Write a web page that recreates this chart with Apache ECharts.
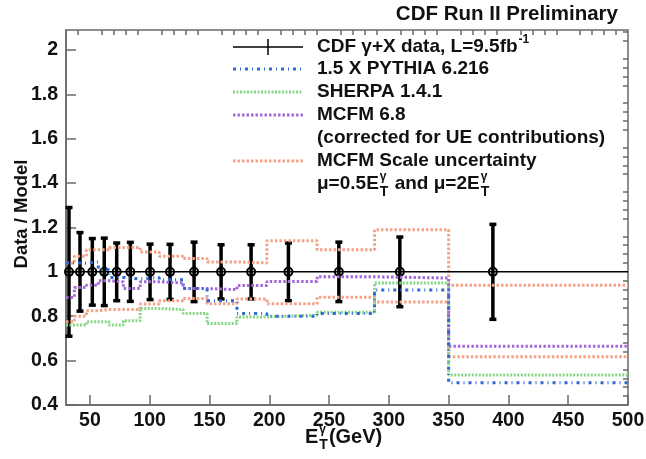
<!DOCTYPE html>
<html>
<head>
<meta charset="utf-8">
<script src="https://cdn.jsdelivr.net/npm/echarts@6/dist/echarts.min.js"></script>
<style>
  html, body { margin: 0; padding: 0; background: #fff; }
  #chart { width: 646px; height: 459px; }
</style>
</head>
<body>
<div id="chart"></div>
<script>
// bin edges (GeV) shared by all model curves
var binEdges = [30, 37, 47, 57, 66, 78, 92, 108, 128, 148, 173, 198, 240, 288, 350, 500];
// data points: position, ratio, total uncertainty
var dataX = [32.5, 41.7, 52, 62, 72.4, 83.8, 100.3, 117, 137.1, 159.7, 184.8, 216, 258.2, 309.2, 387];
var dataY = [1, 1, 1, 1, 1, 1, 1, 1, 1, 1, 1, 1, 1, 1, 1];
var dataErr = [0.29, 0.177, 0.15, 0.152, 0.13, 0.133, 0.125, 0.124, 0.134, 0.122, 0.122, 0.13, 0.134, 0.157, 0.214];
// model ratios, one value per bin
var pythia = [1.04, 1.04, 1.045, 1.01, 0.975, 0.968, 0.975, 0.965, 0.925, 0.87, 0.812, 0.80, 0.812, 0.918, 0.50];
var sherpa = [0.76, 0.76, 0.775, 0.775, 0.76, 0.78, 0.835, 0.83, 0.812, 0.767, 0.797, 0.805, 0.818, 0.95, 0.535];
var mcfm = [0.885, 0.93, 0.94, 0.96, 0.955, 0.925, 0.955, 0.95, 0.925, 0.92, 0.938, 0.957, 0.978, 0.972, 0.665];
var scaleHi = [1.04, 1.07, 1.10, 1.10, 1.11, 1.11, 1.09, 1.07, 1.06, 1.045, 1.04, 1.14, 1.10, 1.19, 0.94];
var scaleLo = [0.775, 0.80, 0.825, 0.83, 0.83, 0.83, 0.855, 0.87, 0.88, 0.856, 0.878, 0.856, 0.886, 0.864, 0.617];
// axis ticks
var xMajor = [50, 100, 150, 200, 250, 300, 350, 400, 450, 500];
var xMinor = [40, 60, 70, 80, 90, 110, 120, 130, 140, 160, 170, 180, 190, 210, 220, 230, 240, 260, 270, 280, 290,
  310, 320, 330, 340, 360, 370, 380, 390, 410, 420, 430, 440, 460, 470, 480, 490];
var yMajor = [0.4, 0.6, 0.8, 1, 1.2, 1.4, 1.6, 1.8, 2];
var yMinor = [0.44, 0.48, 0.52, 0.56, 0.64, 0.68, 0.72, 0.76, 0.84, 0.88, 0.92, 0.96, 1.04, 1.08, 1.12, 1.16,
  1.24, 1.28, 1.32, 1.36, 1.44, 1.48, 1.52, 1.56, 1.64, 1.68, 1.72, 1.76, 1.84, 1.88, 1.92, 1.96, 2.04, 2.08];

var FONT = '"Liberation Sans", Arial, sans-serif';
var ink = '#111';
var frame = '#6a6a6a';
var colors = { pythia: '#2e68d6', sherpa: '#86d684', mcfm: '#a46ad8', scale: '#f6a287' };
var dashes = { pythia: [3, 4, 1, 4], sherpa: [2, 1.5], mcfm: [2.5, 2], scale: [2.5, 2] };

function hist(vals) {
  var pts = vals.map(function (v, i) { return [binEdges[i], v]; });
  pts.push([binEdges[binEdges.length - 1], vals[vals.length - 1]]);
  return pts;
}
function stepSeries(name, vals, key) {
  return { name: name, type: 'line', step: 'end', data: hist(vals), showSymbol: false, silent: true,
    lineStyle: { color: colors[key], width: 3, type: dashes[key] } };
}

// text measurement for manual sub/superscripts
var mctx = document.createElement('canvas').getContext('2d');
function tw(t, size) { mctx.font = 'bold ' + size + 'px ' + FONT; return mctx.measureText(t).width; }
function txt(x, y, t, size, align) {
  return { type: 'text', x: x, y: y, silent: true,
    style: { text: t, font: 'bold ' + size + 'px ' + FONT, fill: ink,
      align: align || 'left', textAlign: align || 'left', verticalAlign: 'middle', textVerticalAlign: 'middle' } };
}
function runs(x, y, size, parts) {
  var out = [], cx = x, small = Math.round(size * 0.62);
  parts.forEach(function (p) {
    if (typeof p === 'string') { out.push(txt(cx, y, p, size)); cx += tw(p, size); return; }
    var w = 0;
    if (p.sup) { out.push(txt(cx + 1, y - size * 0.38, p.sup, small)); w = Math.max(w, tw(p.sup, small)); }
    if (p.sub) { out.push(txt(cx + 1, y + size * 0.42, p.sub, small + 2)); w = Math.max(w, tw(p.sub, small + 2)); }
    cx += w + 2;
  });
  return out;
}

var lx0 = 233, lx1 = 303, tx = 317, ls = 19;
var rows = [47, 69, 92, 115, 138, 161, 184];
function sample(y, key) {
  return { type: 'line', silent: true, shape: { x1: lx0, y1: y, x2: lx1, y2: y },
    style: { stroke: colors[key], lineWidth: 3, lineDash: dashes[key] } };
}
var yTitle = txt(22, 214, 'Data / Model', 18.5, 'center');
yTitle.rotation = Math.PI / 2;
var graphics = [
  txt(618, 14, 'CDF Run II Preliminary', 20.5, 'right'),
  yTitle,
  { type: 'line', silent: true, shape: { x1: lx0, y1: rows[0], x2: lx1, y2: rows[0] }, style: { stroke: '#000', lineWidth: 1.5 } },
  { type: 'line', silent: true, shape: { x1: 268, y1: rows[0] - 8, x2: 268, y2: rows[0] + 8 }, style: { stroke: '#000', lineWidth: 1.5 } },
  sample(rows[1], 'pythia'), sample(rows[2], 'sherpa'), sample(rows[3], 'mcfm'), sample(rows[5], 'scale'),
  txt(tx, rows[1], '1.5 X PYTHIA 6.216', ls),
  txt(tx, rows[2], 'SHERPA 1.4.1', ls),
  txt(tx, rows[3], 'MCFM 6.8', ls),
  txt(tx, rows[4], '(corrected for UE contributions)', ls),
  txt(tx, rows[5], 'MCFM Scale uncertainty', ls)
].concat(
  runs(tx, rows[0], ls, ['CDF \u03b3+X data, L=9.5fb', { sup: '-1' }]),
  runs(tx, rows[6], ls, ['\u03bc=0.5E', { sup: '\u03b3', sub: 'T' }, ' and \u03bc=2E', { sup: '\u03b3', sub: 'T' }]),
  runs(305, 437, 20, ['E', { sup: '\u03b3', sub: 'T' }, '(GeV)'])
);

var chart = echarts.init(document.getElementById('chart'), null, { renderer: 'canvas' });
var labelFont = { fontFamily: FONT, fontWeight: 'bold', fontSize: 19.5, color: ink };
chart.setOption({
  animation: false,
  grid: { left: 66, right: 18, top: 30, bottom: 54, show: true, borderColor: frame, borderWidth: 1.5,
    containLabel: false, outerBoundsMode: 'none' },
  xAxis: [
    { type: 'value', min: 30, max: 500, splitLine: { show: false },
      axisLine: { lineStyle: { color: frame, width: 1.5 } },
      axisTick: { inside: true, length: 10, customValues: xMajor, lineStyle: { color: frame, width: 1.5 } },
      axisLabel: Object.assign({ customValues: xMajor, margin: 6 }, labelFont) },
    { type: 'value', min: 30, max: 500, splitLine: { show: false }, axisLine: { show: false },
      axisTick: { inside: true, length: 5, customValues: xMinor, lineStyle: { color: frame, width: 1.5 } },
      axisLabel: { show: false } }
  ],
  yAxis: [
    { type: 'value', min: 0.4, max: 2.09, splitLine: { show: false },
      axisLine: { lineStyle: { color: frame, width: 1.5 } },
      axisTick: { inside: true, length: 10, customValues: yMajor, lineStyle: { color: frame, width: 1.5 } },
      axisLabel: Object.assign({ customValues: yMajor, margin: 8,
        formatter: function (v) { return String(Math.round(v * 10) / 10); } }, labelFont) },
    { type: 'value', min: 0.4, max: 2.09, splitLine: { show: false }, axisLine: { show: false },
      axisTick: { inside: true, length: 5, customValues: yMinor, lineStyle: { color: frame, width: 1.5 } },
      axisLabel: { show: false } }
  ],
  series: [
    stepSeries('MCFM scale low', scaleLo, 'scale'),
    stepSeries('MCFM scale high', scaleHi, 'scale'),
    stepSeries('SHERPA 1.4.1', sherpa, 'sherpa'),
    stepSeries('MCFM 6.8', mcfm, 'mcfm'),
    stepSeries('1.5 X PYTHIA 6.216', pythia, 'pythia'),
    { name: 'unity', type: 'line', data: [[30, 1], [500, 1]], showSymbol: false, silent: true,
      lineStyle: { color: '#000', width: 1.5 } },
    { name: 'CDF data', type: 'custom', silent: true,
      data: dataX.map(function (x, i) { return [x, dataY[i], dataErr[i]]; }),
      renderItem: function (params, api) {
        var x = api.value(0), y = api.value(1), e = api.value(2);
        var c = api.coord([x, y]), t = api.coord([x, y + e]), b = api.coord([x, y - e]);
        var st = { stroke: '#000', lineWidth: 3.5, fill: null };
        return { type: 'group', children: [
          { type: 'line', shape: { x1: c[0], y1: t[1], x2: c[0], y2: b[1] }, style: st },
          { type: 'line', shape: { x1: c[0] - 3.5, y1: t[1], x2: c[0] + 3.5, y2: t[1] }, style: st },
          { type: 'line', shape: { x1: c[0] - 3.5, y1: b[1], x2: c[0] + 3.5, y2: b[1] }, style: st },
          { type: 'circle', shape: { cx: c[0], cy: c[1], r: 4 }, style: { stroke: '#000', lineWidth: 2, fill: 'rgba(0,0,0,0)' } }
        ] };
      } }
  ],
  graphic: graphics
});
</script>
</body>
</html>
